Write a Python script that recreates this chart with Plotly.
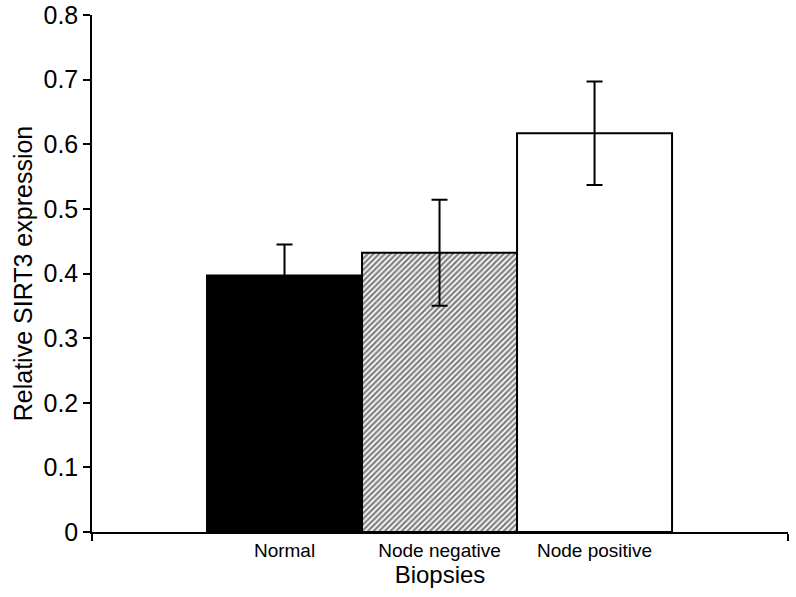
import plotly.graph_objects as go

categories = ["Normal", "Node negative", "Node positive"]
values = [0.397, 0.432, 0.617]
errors = [0.048, 0.082, 0.080]
y_ticks = [0, 0.1, 0.2, 0.3, 0.4, 0.5, 0.6, 0.7, 0.8]
y_tick_labels = ["0", "0.1", "0.2", "0.3", "0.4", "0.5", "0.6", "0.7", "0.8"]

positions = list(range(len(categories)))
fills = ["black", "white", "white"]
shapes = ["", "/", ""]

fig = go.Figure()
for i, cat in enumerate(categories):
    marker = dict(color=fills[i], line=dict(color="black", width=2))
    if shapes[i]:
        marker["pattern"] = dict(shape=shapes[i], fgcolor="black", bgcolor="white",
                                 size=4, solidity=0.55, fillmode="overlay")
    fig.add_trace(go.Bar(
        x=[positions[i]], y=[values[i]], width=1, name=cat,
        marker=marker,
        error_y=dict(type="data", array=[errors[i]], color="black", thickness=2, width=8),
        showlegend=False,
    ))

left_edge = -1.242
right_edge = 3.248
fig.update_layout(
    width=796, height=597,
    margin=dict(l=92, r=8, t=15, b=65),
    paper_bgcolor="white", plot_bgcolor="white",
    barmode="overlay",
    font=dict(family="Liberation Sans, Arial, sans-serif", color="black"),
    xaxis=dict(
        range=[left_edge, right_edge], automargin=False,
        tickvals=positions, ticktext=categories, ticks="",
        tickfont=dict(size=19), showline=True, linecolor="black", linewidth=1.5,
        showgrid=False, zeroline=False,
        title=dict(text="Biopsies", font=dict(size=24), standoff=4),
        minor=dict(tickvals=[left_edge, right_edge], ticks="outside", ticklen=7,
                   tickcolor="black", tickwidth=1.5, showgrid=False),
    ),
    yaxis=dict(
        range=[0, 0.8], tickvals=y_ticks, ticktext=y_tick_labels, automargin=False,
        ticks="outside", ticklen=7, tickwidth=1.5, tickcolor="black",
        tickfont=dict(size=25), showline=True, linecolor="black", linewidth=1.5,
        showgrid=False, zeroline=False,
        title=dict(text="Relative SIRT3 expression", font=dict(size=25), standoff=4),
    ),
)

fig.write_html("out.html", config={"displayModeBar": False},
               post_script="document.body.style.margin='0';")
